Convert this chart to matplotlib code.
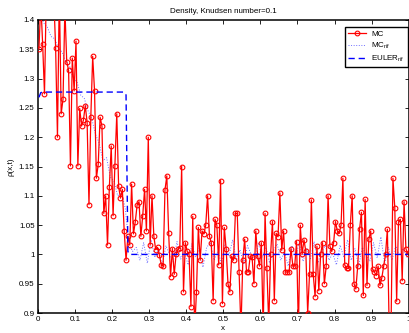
import numpy as np
import matplotlib
matplotlib.use("Agg")
import matplotlib.pyplot as plt

plt.rcParams['font.family'] = ['Liberation Sans', 'DejaVu Sans']
plt.rcParams['mathtext.fontset'] = 'custom'
plt.rcParams['mathtext.rm'] = 'Liberation Sans'
plt.rcParams['mathtext.it'] = 'Liberation Sans:italic'

title = "Density, Knudsen number=0.1"
xlabel = "x"
ylabel = "ρ(x,t)"
legend_labels = ["MC", r"MC$_{\mathrm{rif}}$", r"EULER$_{\mathrm{rif}}$"]

x_ticks = [0, 0.1, 0.2, 0.3, 0.4, 0.5, 0.6, 0.7, 0.8, 0.9, 1.0]
x_ticklabels = ["0", "0.1", "0.2", "0.3", "0.4", "0.5", "0.6", "0.7", "0.8", "0.9", "1"]
y_ticks = [0.9, 0.95, 1.0, 1.05, 1.1, 1.15, 1.2, 1.25, 1.3, 1.35, 1.4]
y_ticklabels = ["0.9", "0.95", "1", "1.05", "1.1", "1.15", "1.2", "1.25", "1.3", "1.35", "1.4"]

# MC density, 200 cells
mc = [
    1.350, 1.430, 1.359, 1.274, 1.450, 1.420, 1.470, 1.410, 1.440, 1.353,
    1.200, 1.450, 1.240, 1.265, 1.420, 1.329, 1.314, 1.151, 1.335, 1.279,
    1.364, 1.151, 1.249, 1.219, 1.229, 1.254, 1.225, 1.085, 1.235, 1.338,
    1.279, 1.130, 1.154, 1.234, 1.219, 1.070, 1.100, 1.016, 1.115, 1.185,
    1.066, 1.151, 1.240, 1.116, 1.096, 1.111, 1.040, 0.990, 1.031, 1.016,
    1.120, 1.035, 1.056, 1.085, 1.090, 1.031, 1.066, 1.111, 1.040, 1.200,
    1.016, 1.100, 1.031, 1.008, 1.012, 0.999, 0.982, 0.980, 1.110, 1.134,
    1.036, 0.962, 1.010, 0.966, 1.000, 1.009, 1.011, 1.150, 0.936, 1.020,
    1.005, 1.000, 0.911, 1.065, 0.870, 0.936, 1.046, 0.990, 1.040, 1.035,
    1.050, 1.100, 1.031, 1.020, 0.921, 1.060, 1.050, 0.982, 1.126, 0.916,
    1.046, 1.010, 0.950, 0.936, 0.997, 0.990, 1.070, 1.070, 0.970, 0.870,
    0.990, 1.026, 0.970, 0.970, 0.997, 0.995, 0.950, 1.040, 0.997, 0.980,
    1.020, 0.870, 1.070, 0.976, 0.880, 1.000, 1.056, 0.921, 1.036, 1.030,
    1.105, 1.007, 1.040, 0.970, 0.970, 0.970, 1.010, 0.980, 0.980, 1.022,
    0.870, 1.050, 1.000, 1.025, 1.005, 0.900, 0.966, 1.093, 0.966, 0.928,
    1.014, 0.938, 1.000, 1.020, 0.950, 0.980, 1.100, 1.014, 1.005, 1.020,
    1.056, 1.040, 1.036, 1.050, 1.130, 0.982, 0.976, 0.976, 1.050, 1.100,
    0.950, 0.941, 0.980, 1.043, 1.072, 0.930, 1.094, 0.947, 1.026, 1.040,
    0.975, 0.970, 0.964, 0.980, 0.947, 0.960, 0.980, 1.000, 1.043, 0.870,
    0.880, 1.130, 1.080, 0.920, 1.055, 1.060, 0.955, 1.090, 1.010, 1.000,
]

# Reference MC, 100 cells
mc_rif = [
    1.420, 1.395, 1.388, 1.372, 1.368, 1.352, 1.345, 1.330, 1.322, 1.300,
    1.295, 1.272, 1.266, 1.245, 1.232, 1.205, 1.190, 1.160, 1.165, 1.132,
    1.125, 1.100, 1.105, 1.080, 1.020, 1.005, 1.012, 0.990, 1.020, 0.985,
    1.025, 0.995, 1.010, 0.980, 1.015, 1.000, 0.988, 1.022, 0.992, 1.005,
    0.982, 1.018, 0.995, 1.010, 0.978, 1.012, 1.020, 0.990, 1.005, 0.985,
    1.018, 0.997, 1.025, 0.990, 1.008, 0.983, 1.015, 1.000, 0.990, 1.020,
    0.995, 1.012, 0.985, 1.006, 1.018, 0.990, 1.004, 0.980, 1.015, 0.997,
    1.020, 0.988, 1.010, 0.993, 1.022, 0.985, 1.005, 1.015, 0.990, 1.002,
    0.982, 1.016, 0.995, 1.025, 0.990, 1.010, 0.980, 1.012, 1.000, 0.988,
    1.020, 0.994, 1.030, 0.985, 1.012, 0.990, 1.015, 0.998, 1.010, 0.995,
]

# Euler reference, 200 cells
euler = [1.268, 1.276] + [1.277] * 45 + [1.272, 1.005] + [1.000] * 151

x_mc = (np.arange(len(mc)) + 0.5) / len(mc)
x_rif = (np.arange(len(mc_rif)) + 0.5) / len(mc_rif)
x_eu = (np.arange(len(euler)) + 0.5) / len(euler)

fig = plt.figure(figsize=(4.10, 3.33), dpi=100)
ax = fig.add_axes([0.0927, 0.060, 0.9041, 0.880])

ax.plot(x_mc, mc, color='#ff0000', lw=0.9, marker='o', ms=3.4, mfc='none',
        mew=0.8, label=legend_labels[0], zorder=3)
ax.plot(x_rif, mc_rif, color='#7070ff', lw=0.7, ls=':', label=legend_labels[1], zorder=2)
ax.plot(x_eu, euler, color='#0000ff', lw=1.0, ls=(0, (4.5, 2.8)), label=legend_labels[2], zorder=4)

ax.set_xlim(0, 1)
ax.set_ylim(0.9, 1.4)
ax.set_xticks(x_ticks)
ax.set_xticklabels(x_ticklabels)
ax.set_yticks(y_ticks)
ax.set_yticklabels(y_ticklabels)
ax.tick_params(direction='in', length=3, width=0.6, labelsize=5.8, pad=2.5,
               top=True, right=True, colors='black')
for s in ax.spines.values():
    s.set_linewidth(1.1)
    s.set_color('black')

ax.set_title(title, fontsize=5.8, pad=5)
ax.set_xlabel(xlabel, fontsize=5.8, labelpad=1)
ax.set_ylabel(ylabel, fontsize=5.8, labelpad=3)

leg = ax.legend(loc='upper right', bbox_to_anchor=(0.997, 0.977), borderaxespad=0,
                fontsize=5.8, fancybox=False, framealpha=1, edgecolor='black',
                handlelength=2.2, handletextpad=0.6, labelspacing=0.35,
                borderpad=0.4)
leg.get_frame().set_linewidth(1.0)

fig.savefig("out.png", dpi=100)
